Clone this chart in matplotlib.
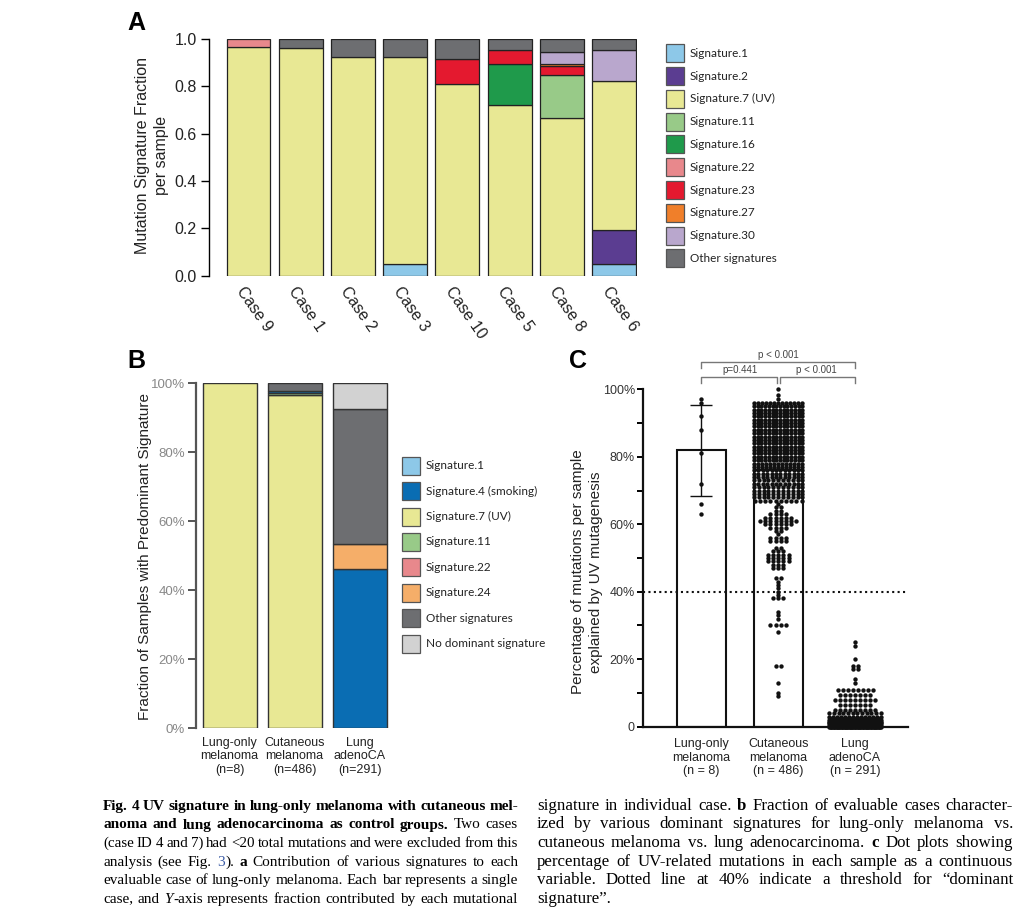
import numpy as np
import matplotlib
matplotlib.use('Agg')
import matplotlib.pyplot as plt
from matplotlib.patches import Rectangle

W, H = 1036, 921
SANS = 'Liberation Sans'
LEG = 'Lato'
SERIF = 'Liberation Serif'

# ---------------- panel A: signature fractions per case ----------------
a_cases = ['Case 9', 'Case 1', 'Case 2', 'Case 3', 'Case 10', 'Case 5', 'Case 8', 'Case 6']
a_names = ['Signature.1', 'Signature.2', 'Signature.7 (UV)', 'Signature.11', 'Signature.16',
           'Signature.22', 'Signature.23', 'Signature.27', 'Signature.30', 'Other signatures']
a_colors = ['#8dc8e8', '#5b3d91', '#e8e894', '#98ca88', '#1f9a4b',
            '#e8888c', '#e4192f', '#f07f2a', '#b9a7cd', '#6d6e71']
a_sig1 = [0, 0, 0, 0.048, 0, 0, 0, 0.048]
a_sig2 = [0, 0, 0, 0, 0, 0, 0, 0.145]
a_sig7 = [0.967, 0.962, 0.922, 0.877, 0.808, 0.722, 0.665, 0.628]
a_sig11 = [0, 0, 0, 0, 0, 0, 0.184, 0]
a_sig16 = [0, 0, 0, 0, 0, 0.171, 0, 0]
a_sig22 = [0.033, 0, 0, 0, 0, 0, 0, 0]
a_sig23 = [0, 0, 0, 0, 0.106, 0.062, 0.037, 0]
a_sig27 = [0, 0, 0, 0, 0, 0, 0.008, 0]
a_sig30 = [0, 0, 0, 0, 0, 0, 0.052, 0.134]
a_other = [0, 0.038, 0.078, 0.075, 0.086, 0.045, 0.054, 0.045]
a_ticks = [0.0, 0.2, 0.4, 0.6, 0.8, 1.0]

# ---------------- panel B: predominant signature per group ----------------
b_groups = ['Lung-only\nmelanoma\n(n=8)', 'Cutaneous\nmelanoma\n(n=486)', 'Lung\nadenoCA\n(n=291)']
b_names = ['Signature.1', 'Signature.4 (smoking)', 'Signature.7 (UV)', 'Signature.11',
           'Signature.22', 'Signature.24', 'Other signatures', 'No dominant signature']
b_colors = ['#8dc8e8', '#0a6db3', '#e8e894', '#98ca88', '#e8888c', '#f5ae69', '#6d6e71', '#d2d2d2']
b_sig1 = [0, 0, 0]
b_sig4 = [0, 0.005, 0.461]
b_sig7 = [1.0, 0.966, 0]
b_sig11 = [0, 0.006, 0]
b_sig22 = [0, 0, 0]
b_sig24 = [0, 0, 0.073]
b_other = [0, 0.023, 0.392]
b_nodom = [0, 0, 0.074]
b_ticks = [0, 20, 40, 60, 80, 100]

# ---------------- panel C: % UV mutations per sample ----------------
c_groups = ['Lung-only\nmelanoma\n(n = 8)', 'Cutaneous\nmelanoma\n(n = 486)', 'Lung\nadenoCA\n(n = 291)']
c_lung_only = [97.0, 96.0, 92.1, 87.9, 81.2, 71.9, 65.9, 62.9]
c_cut_levels = [100, 98.3, 97.1,
                96, 95, 94, 93, 92, 91, 90, 89, 88, 87, 86, 85, 84, 83, 82, 81, 80, 79, 78,
                77, 76, 75, 74, 73, 72, 71, 70, 69, 68, 67,
                66, 65, 64, 63, 62, 61, 60, 59, 58, 57, 56, 55,
                53, 52, 51, 50, 49, 48, 47, 44, 43, 42, 41, 40, 39, 38,
                34, 33, 32, 30, 28, 18, 13, 10, 9]
c_cut_counts = [1, 1, 1,
                13, 14, 14, 14, 14, 14, 14, 14, 14, 14, 14, 14, 14, 14, 14, 14, 14, 14, 13,
                13, 12, 12, 12, 11, 12, 11, 11, 11, 11, 10,
                1, 2, 2, 4, 6, 8, 6, 4, 2, 1, 4, 4,
                2, 3, 5, 5, 5, 3, 3, 2, 1, 1, 1, 1, 1, 3,
                1, 1, 1, 4, 1, 2, 1, 1, 1]
c_luad_levels = [25, 24, 20, 18, 17, 14, 13, 11, 9.5, 8, 6.5, 5, 4, 3, 2, 1.5, 1, 0.5, 0]
c_luad_counts = [1, 1, 1, 2, 2, 1, 1, 8, 7, 9, 7, 9, 12, 14, 24, 30, 40, 50, 72]
c_ticks = [0, 20, 40, 60, 80, 100]
c_tick_labels = ['0', '20%', '40%', '60%', '80%', '100%']
c_threshold = 40
c_pvals = ['p < 0.001', 'p=0.441', 'p < 0.001']

fig = plt.figure(figsize=(W / 100, H / 100), dpi=100)
fig.patch.set_facecolor('white')


def px_axes(left, top, right, bottom):
    return fig.add_axes([left / W, 1 - bottom / H, (right - left) / W, (bottom - top) / H])


def stack(ax, x, layers, colors, width, edge, lw):
    base = np.zeros(len(x))
    for vals, col in zip(layers, colors):
        vals = np.asarray(vals, dtype=float)
        m = vals > 0
        ax.bar(np.asarray(x)[m], vals[m], width, bottom=base[m], color=col,
               edgecolor=edge, linewidth=lw, zorder=2)
        base += vals


def legend_box(x, y0, pitch, names, colors, size, fs, edge):
    for i, (nm, col) in enumerate(zip(names, colors)):
        yc = y0 + i * pitch
        fig.add_artist(Rectangle((x / W, 1 - (yc + size / 2) / H), size / W, size / H,
                                 transform=fig.transFigure, facecolor=col,
                                 edgecolor=edge, linewidth=0.9))
        fig.text((x + size + 6) / W, 1 - yc / H, nm, fontsize=fs, family=LEG,
                 color='#222222', va='center', ha='left')


# ---------- A ----------
axa = px_axes(209.3, 39, 637, 275.7)
xa = np.arange(len(a_cases))
stack(axa, xa, [a_sig1, a_sig2, a_sig7, a_sig11, a_sig16, a_sig22, a_sig23, a_sig27, a_sig30, a_other],
      a_colors, 0.84, '#222222', 0.9)
axa.set_xlim(-0.75, 7.44)
axa.set_ylim(0, 1)
for s in ['top', 'right', 'bottom']:
    axa.spines[s].set_visible(False)
axa.spines['left'].set_linewidth(1.0)
axa.set_yticks(a_ticks)
axa.set_yticklabels(['%.1f' % t for t in a_ticks], fontsize=11.5, family=SANS, color='#222222')
axa.tick_params(axis='y', length=6, width=1, pad=3)
axa.set_xticks([])
for i, c in enumerate(a_cases):
    axa.text(i - 0.05, -0.035, c, rotation=-55, rotation_mode='anchor', ha='left', va='top',
             fontsize=11.5, family=SANS, color='#222222', clip_on=False)
fig.text(152 / W, 1 - 155 / H, 'Mutation Signature Fraction\nper sample', rotation=90,
         ha='center', va='center', fontsize=11.5, family=SANS, color='#222222', linespacing=1.3)
fig.text(127 / W, 1 - 23 / H, 'A', fontsize=18, fontweight='bold', family=SANS, va='center')
legend_box(666, 53.3, 22.8, a_names, a_colors, 18, 8.5, '#555555')

# ---------- B ----------
axb = px_axes(196, 383.3, 390, 728.3)
xb = np.arange(len(b_groups))
# sig4 stacked after sig11 so the thin cutaneous sliver sits above the green one
stack(axb, xb, [b_sig1, b_sig7, b_sig11, b_sig22, b_sig4, b_sig24, b_other, b_nodom],
      [b_colors[0], b_colors[2], b_colors[3], b_colors[4], b_colors[1], b_colors[5],
       b_colors[6], b_colors[7]], 0.83, '#333333', 1.0)
axb.set_xlim(-0.518, 2.466)
axb.set_ylim(0, 1)
for s in ['top', 'right', 'bottom']:
    axb.spines[s].set_visible(False)
axb.spines['left'].set_linewidth(1.6)
axb.spines['left'].set_color('#555555')
axb.set_yticks([t / 100 for t in b_ticks])
axb.set_yticklabels(['%d%%' % t for t in b_ticks], fontsize=9.5, family=SANS, color='#888888')
axb.tick_params(axis='y', length=6, width=1.4, color='#555555', pad=2)
axb.set_xticks(xb)
axb.set_xticklabels(b_groups, fontsize=9, family=SANS, color='#222222', linespacing=1.2)
axb.tick_params(axis='x', length=0, pad=6)
fig.text(145 / W, 1 - 556 / H, 'Fraction of Samples with Predominant Signature', rotation=90,
         ha='center', va='center', fontsize=11, family=SANS, color='#222222')
fig.text(127 / W, 1 - 361 / H, 'B', fontsize=18, fontweight='bold', family=SANS, va='center')
legend_box(402, 465.7, 25.4, b_names, b_colors, 18, 8.5, '#555555')

# ---------- C ----------
axc = px_axes(643.3, 389.3, 908, 726.7)
xc = np.arange(1, 4)


def dot_positions(center, levels, counts, pitch, half):
    xs, ys = [], []
    for lv, n in zip(levels, counts):
        step = pitch if n == 1 else min(pitch, 2 * half / (n - 1))
        off = (np.arange(n) - (n - 1) / 2) * step
        xs.extend(center + off)
        ys.extend([lv] * n)
    return np.array(xs), np.array(ys)


cut_vals = np.repeat(c_cut_levels, c_cut_counts)
luad_vals = np.repeat(c_luad_levels, c_luad_counts)
means = [np.mean(c_lung_only), cut_vals.mean(), luad_vals.mean()]
axc.bar(xc, means, 0.64, facecolor='white', edgecolor='#111111', linewidth=1.5, zorder=1)
axc.errorbar(1, means[0], yerr=np.std(c_lung_only, ddof=1), color='#111111', lw=1,
             capsize=8, capthick=1, zorder=3)
DOT = 10
axc.scatter(np.ones(len(c_lung_only)), c_lung_only, s=DOT, color='#111111', zorder=4, lw=0, clip_on=False)
x2, y2 = dot_positions(2, c_cut_levels, c_cut_counts, 0.068, 0.315)
axc.scatter(x2, y2, s=DOT, color='#111111', zorder=4, lw=0, clip_on=False)
x3, y3 = dot_positions(3, c_luad_levels, c_luad_counts, 0.065, 0.335)
axc.scatter(x3, y3, s=DOT, color='#111111', zorder=4, lw=0, clip_on=False)
axc.axhline(c_threshold, color='#111111', lw=1.5, ls=(0, (1, 1.6)), zorder=2)
axc.set_xlim(0.246, 3.689)
axc.set_ylim(0, 100)
for s in ['top', 'right']:
    axc.spines[s].set_visible(False)
for s in ['left', 'bottom']:
    axc.spines[s].set_linewidth(1.6)
    axc.spines[s].set_color('#111111')
axc.set_yticks(c_ticks)
axc.set_yticklabels(c_tick_labels, fontsize=9, family=SANS, color='#333333')
axc.set_yticks([10, 30, 50, 70, 90], minor=True)
axc.tick_params(axis='y', which='both', length=4, width=1.4, pad=2)
axc.set_xticks(xc)
axc.set_xticklabels(c_groups, fontsize=9, family=SANS, color='#222222', linespacing=1.2)
axc.tick_params(axis='x', length=0, pad=8)
br = dict(color='#777777', lw=1, clip_on=False)
axc.plot([1, 1, 3, 3], [106.2, 108.2, 108.2, 106.2], **br)
axc.plot([1, 1, 1.98, 1.98], [101.8, 103.7, 103.7, 101.8], **br)
axc.plot([2.02, 2.02, 3, 3], [101.8, 103.7, 103.7, 101.8], **br)
for xp, yp, t in zip([2, 1.5, 2.5], [110.3, 105.8, 105.8], c_pvals):
    axc.text(xp, yp, t, ha='center', va='center', fontsize=7, family=SANS, color='#444444')
fig.text(587 / W, 1 - 572 / H, 'Percentage of mutations per sample\nexplained by UV mutagenesis',
         rotation=90, ha='center', va='center', fontsize=11, family=SANS, color='#222222',
         linespacing=1.3)
fig.text(569 / W, 1 - 361 / H, 'C', fontsize=18, fontweight='bold', family=SANS, va='center')

# ---------- caption ----------
renderer = fig.canvas.get_renderer()
cap_left = [
    [('Fig. 4 UV signature in lung-only melanoma with cutaneous mel-', 'b')],
    [('anoma and lung adenocarcinoma as control groups.', 'b'), (' Two cases', 'n')],
    [('(case ID 4 and 7) had <20 total mutations and were excluded from this', 'n')],
    [('analysis (see Fig. ', 'n'), ('3', 'blue'), ('). ', 'n'), ('a', 'b'),
     (' Contribution of various signatures to each', 'n')],
    [('evaluable case of lung-only melanoma. Each bar represents a single', 'n')],
    [('case, and ', 'n'), ('Y', 'i'), ('-axis represents fraction contributed by each mutational', 'n')],
]
cap_right = [
    [('signature in individual case. ', 'n'), ('b', 'b'), (' Fraction of evaluable cases character-', 'n')],
    [('ized by various dominant signatures for lung-only melanoma vs.', 'n')],
    [('cutaneous melanoma vs. lung adenocarcinoma. ', 'n'), ('c', 'b'), (' Dot plots showing', 'n')],
    [('percentage of UV-related mutations in each sample as a continuous', 'n')],
    [('variable. Dotted line at 40% indicate a threshold for \u201cdominant', 'n')],
    [('signature\u201d.', 'n')],
]


def caption_line(segs, x0, x1, yb, justify, fs):
    words, cur = [], []
    for txt, sty in segs:
        pieces = txt.split(' ')
        for k, p in enumerate(pieces):
            if k > 0 and cur:
                words.append(cur)
                cur = []
            if p:
                cur.append((p, sty))
    if cur:
        words.append(cur)
    rows = []
    for w in words:
        row = []
        for p, sty in w:
            t = fig.text(0, 0, p, fontsize=fs, family=SERIF,
                         fontweight='bold' if sty == 'b' else 'normal',
                         fontstyle='italic' if sty == 'i' else 'normal',
                         color='#3b5ba5' if sty == 'blue' else 'black', va='baseline', ha='left')
            row.append(t)
        rows.append(row)

    def measure():
        return [[t.get_window_extent(renderer).width for t in row] for row in rows]

    widths = measure()
    total = sum(sum(r) for r in widths)
    space = 0.25 * fs * 100 / 72
    if justify and len(words) > 1:
        room = x1 - x0 - 0.8 * space * (len(words) - 1)
        if total > room:
            for row in rows:
                for t in row:
                    t.set_fontsize(fs * room / total)
            widths = measure()
            total = sum(sum(r) for r in widths)
        gap = (x1 - x0 - total) / (len(words) - 1)
    else:
        gap = space
    x = x0
    for row, ws in zip(rows, widths):
        xx = x
        for t, wd in zip(row, ws):
            t.set_position((xx / W, 1 - yb / H))
            xx += wd
        x += sum(ws) + gap


for i, segs in enumerate(cap_left):
    caption_line(segs, 103, 518, 810 + i * 18.5, True, 11)
for i, segs in enumerate(cap_right):
    caption_line(segs, 537, 1013, 810 + i * 18.5, i < len(cap_right) - 1, 12.2)

fig.savefig('out.png', dpi=100, facecolor='white')
